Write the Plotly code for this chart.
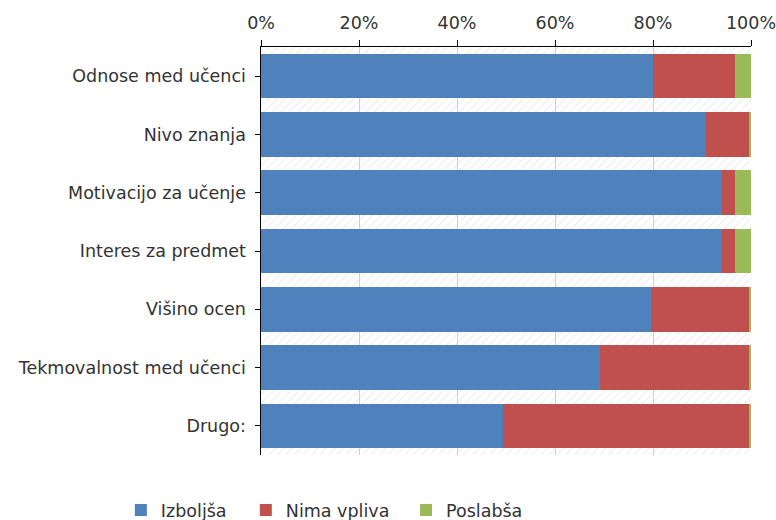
import plotly.graph_objects as go

categories = ["Odnose med učenci", "Nivo znanja", "Motivacijo za učenje",
              "Interes za predmet", "Višino ocen", "Tekmovalnost med učenci", "Drugo:"]
izboljsa = [80.0, 90.8, 94.0, 94.0, 79.6, 69.1, 49.4]
nima_vpliva = [16.7, 8.7, 2.7, 2.7, 20.0, 30.5, 50.2]
poslabsa = [3.3, 0.5, 3.3, 3.3, 0.4, 0.4, 0.4]
series_names = ["Izboljša", "Nima vpliva", "Poslabša"]
colors = ["#4F81BD", "#C0504D", "#9BBB59"]
tick_vals = [0, 20, 40, 60, 80, 100]

font = dict(family="DejaVu Sans", size=17.5, color="#333333")

fig = go.Figure()

# hatched plot background (decoration)
fig.add_trace(go.Bar(
    x=[100] * len(categories), y=categories, orientation="h", width=1,
    marker=dict(color="rgba(0,0,0,0)", line=dict(width=0),
                pattern=dict(shape="/", fgcolor="#dedede", bgcolor="rgba(0,0,0,0)",
                             size=6, solidity=0.2)),
    showlegend=False, hoverinfo="skip", xaxis="x", yaxis="y",
))

legend_ids = ["legend", "legend2", "legend3"]
for name, vals, col, lg in zip(series_names, [izboljsa, nima_vpliva, poslabsa], colors, legend_ids):
    fig.add_trace(go.Bar(
        x=vals, y=categories, orientation="h", name=name,
        marker=dict(color=col, line=dict(width=0)),
        xaxis="x2", yaxis="y", legend=lg,
    ))

legend_common = dict(orientation="h", xanchor="left", y=-0.135, yanchor="middle",
                     font=font, bgcolor="rgba(0,0,0,0)")

fig.update_layout(
    width=776, height=520,
    margin=dict(l=261, r=25, t=47, b=65, autoexpand=False),
    barmode="stack", bargap=0.236,
    paper_bgcolor="white", plot_bgcolor="white",
    font=font,
    xaxis=dict(range=[0, 100], tickvals=tick_vals, showticklabels=False,
               showgrid=True, gridcolor="#cfcfcf", gridwidth=1, zeroline=False,
               showline=False, ticks="", automargin=False),
    xaxis2=dict(overlaying="x", side="top", range=[0, 100], tickvals=tick_vals,
                ticktext=[f"{v}%" for v in tick_vals],
                showgrid=False, zeroline=False,
                showline=True, linecolor="black", linewidth=1,
                ticks="outside", ticklen=6, tickcolor="black", tickfont=font,
                ticklabelstandoff=4, ticklabeloverflow="allow", automargin=False),
    yaxis=dict(autorange="reversed", showline=True, linecolor="black", linewidth=1,
               ticks="outside", ticklen=5, tickcolor="black", showgrid=False,
               tickfont=font, ticksuffix=" ", automargin=False),
    legend=dict(x=-0.286, **legend_common),
    legend2=dict(x=-0.031, **legend_common),
    legend3=dict(x=0.296, **legend_common),
)

fig.write_html("out.html", config={"displayModeBar": False},
               post_script="document.body.style.margin='0';")
